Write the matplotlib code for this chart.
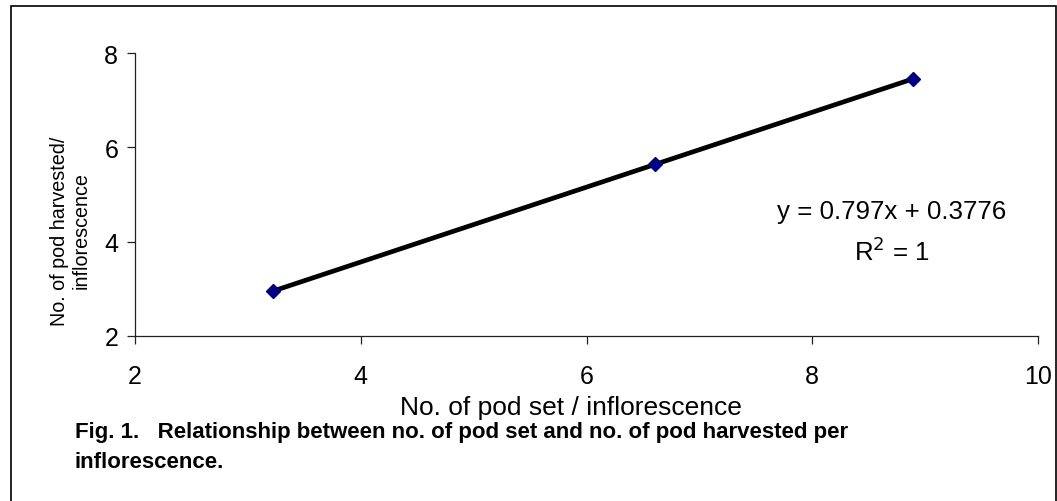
import matplotlib
matplotlib.use('Agg')
import matplotlib.pyplot as plt
from matplotlib.patches import Rectangle
import numpy as np

# values
pod_set = [3.22, 6.61, 8.89]
pod_harvested = [2.95, 5.64, 7.45]
x_ticks = [2, 4, 6, 8, 10]
y_ticks = [2, 4, 6, 8]

plt.rcParams['font.family'] = ['Liberation Sans', 'DejaVu Sans']

W, H = 1057, 502
fig = plt.figure(figsize=(W / 100, H / 100), dpi=100)

# outer frame (bottom edge falls off the picture)
fig.patches.append(Rectangle((10.5 / W, -0.05), 1045 / W, (H - 7) / H + 0.05,
                             transform=fig.transFigure, fill=False,
                             edgecolor='black', linewidth=1.2))

ax = fig.add_axes([135 / W, (H - 337) / H, (1038 - 135) / W, (337 - 54) / H])

# linear trendline
slope, icpt = np.polyfit(pod_set, pod_harvested, 1)
xs = np.array([min(pod_set), max(pod_set)])
ax.plot(xs, slope * xs + icpt, color='black', linewidth=3.4,
        solid_capstyle='round', zorder=2)
ax.plot(pod_set, pod_harvested, linestyle='none', marker='D', markersize=7,
        color='#000080', zorder=3)

ax.set_xlim(2, 10)
ax.set_ylim(2, 8)
ax.set_xticks(x_ticks)
ax.set_yticks(y_ticks)
ax.spines['top'].set_visible(False)
ax.spines['right'].set_visible(False)
for s in ['left', 'bottom']:
    ax.spines[s].set_color('#222222')
    ax.spines[s].set_linewidth(0.9)
ax.tick_params(direction='out', length=6, width=0.9, color='#222222',
               labelsize=18, pad=6)
ax.tick_params(axis='x', pad=14)

ax.set_xlabel('No. of pod set / inflorescence', fontsize=19, labelpad=5)
ax.xaxis.label.set_x(0.483)
ax.set_ylabel('No. of pod harvested/\ninflorescence', fontsize=14.2,
              labelpad=10, linespacing=1.15)
ax.yaxis.label.set_y(0.375)

ax.text(0.838, 0.442, 'y = 0.797x + 0.3776', transform=ax.transAxes,
        ha='center', va='center', fontsize=18.6)
ax.text(0.838, 0.300, 'R$^2$ = 1', transform=ax.transAxes,
        ha='center', va='center', fontsize=18.6)

fig.text(75 / W, 1 - 433 / H,
         'Fig. 1.   Relationship between no. of pod set and no. of pod harvested per',
         fontsize=16, fontweight='bold', va='center', ha='left')
fig.text(75 / W, 1 - 463 / H, 'inflorescence.',
         fontsize=16, fontweight='bold', va='center', ha='left')

fig.savefig('out.png', dpi=100)
